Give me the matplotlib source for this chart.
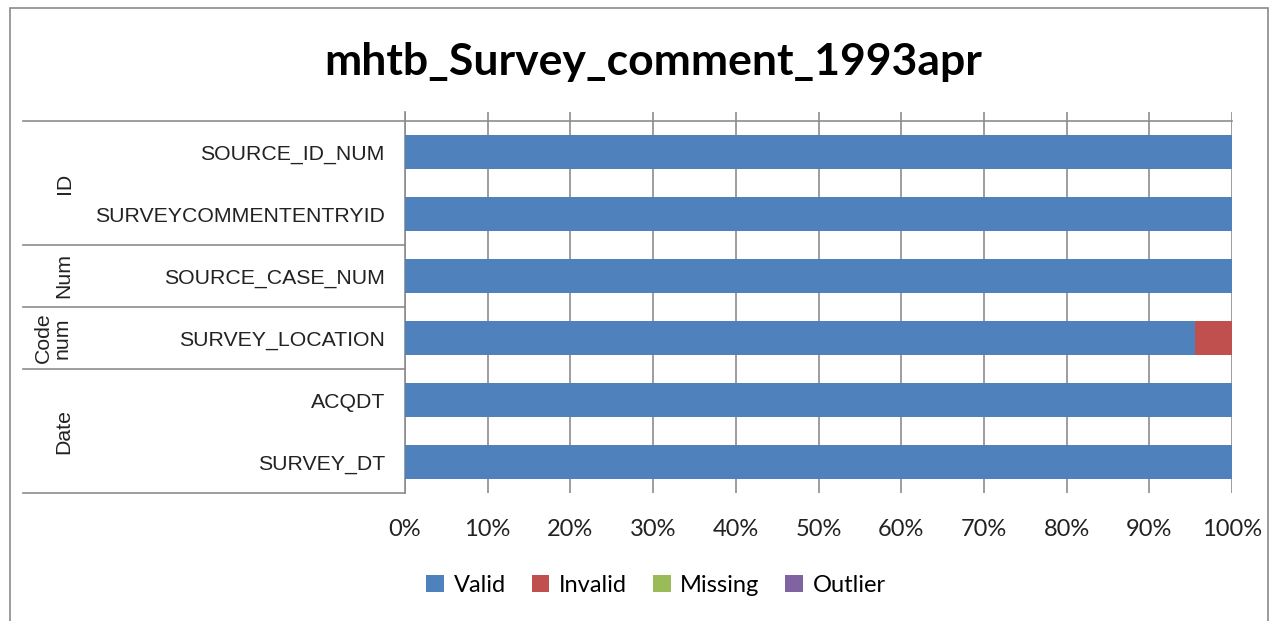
import matplotlib.pyplot as plt
import matplotlib.transforms as mtransforms
from matplotlib.patches import Rectangle
import numpy as np

# data
fields = ["SOURCE_ID_NUM", "SURVEYCOMMENTENTRYID", "SOURCE_CASE_NUM",
          "SURVEY_LOCATION", "ACQDT", "SURVEY_DT"]
groups = ["ID", "Num", "Code\nnum", "Date"]
group_sizes = [2, 1, 1, 2]
valid = [1.0, 1.0, 1.0, 0.955, 1.0, 1.0]
invalid = [0.0, 0.0, 0.0, 0.045, 0.0, 0.0]
missing = [0.0, 0.0, 0.0, 0.0, 0.0, 0.0]
outlier = [0.0, 0.0, 0.0, 0.0, 0.0, 0.0]
series_names = ["Valid", "Invalid", "Missing", "Outlier"]
colors = ["#4F81BD", "#C0504D", "#9BBB59", "#8064A2"]

W, H = 1272, 621
fig = plt.figure(figsize=(W / 100, H / 100), dpi=100)

# outer chart frame
fig.patches.append(Rectangle((10 / W, -0.01), (1268 - 10) / W, (H - 8) / H + 0.01,
                             transform=fig.transFigure, fill=False,
                             edgecolor="#8a8a8a", lw=1.2))

ax = fig.add_axes([405 / W, (H - 493) / H, 827 / W, (493 - 112) / H])

y = np.arange(len(fields))
left = np.zeros(len(fields))
for name, vals, c in zip(series_names, [valid, invalid, missing, outlier], colors):
    ax.barh(y, vals, left=left, height=0.55, color=c, label=name, zorder=3)
    left = left + np.array(vals)

ax.set_xlim(0, 1)
ax.set_ylim(5.5, -0.5 - 9 / 62)
ax.set_xticks(np.linspace(0, 1, 11))
ax.set_xticklabels([f"{int(v)}%" for v in np.linspace(0, 100, 11)],
                   fontsize=17, family="Lato", color="#222222")
ax.tick_params(axis="x", length=0, pad=19)
ax.set_yticks(y)
ax.set_yticklabels(fields, fontsize=15.3, family="Liberation Sans", color="#222222")
ax.tick_params(axis="y", length=0, pad=14.5)
ax.grid(axis="x", color="#8c8c8c", lw=1.2, zorder=1)
for s in ["top", "right", "bottom"]:
    ax.spines[s].set_visible(False)
ax.spines["left"].set_color("#8c8c8c")
ax.spines["left"].set_linewidth(1.2)

# multi-level category lines
tr = mtransforms.blended_transform_factory(fig.transFigure, ax.transData)
x0 = 23 / W
x1 = 405 / W
ax.plot([x0, 1232 / W], [-0.5, -0.5], transform=tr, color="#8c8c8c",
        lw=1.2, clip_on=False, zorder=4)
pos = -0.5
for g, n in zip(groups, group_sizes):
    mid = pos + n / 2
    pos += n
    ax.plot([x0, x1], [pos, pos], transform=tr, color="#8c8c8c", lw=1.2,
            clip_on=False)
    ax.text(64 / W if "\n" not in g else 53 / W, mid, g, transform=tr,
            rotation=90, ha="center", va="center", fontsize=15.3,
            family="Liberation Sans", color="#222222", linespacing=1.0)

fig.text(653 / W, 1 - 62 / H, "mhtb_Survey_comment_1993apr", ha="center",
         va="center", fontsize=32, fontweight="bold", family="Lato")

fig.legend(loc="center", bbox_to_anchor=(656 / W, 1 - 585 / H), ncol=4,
           frameon=False, prop={"family": "Lato", "size": 17},
           handlelength=0.75, handleheight=0.75, handletextpad=0.4,
           columnspacing=1.1)

fig.savefig("out.png", dpi=100)
